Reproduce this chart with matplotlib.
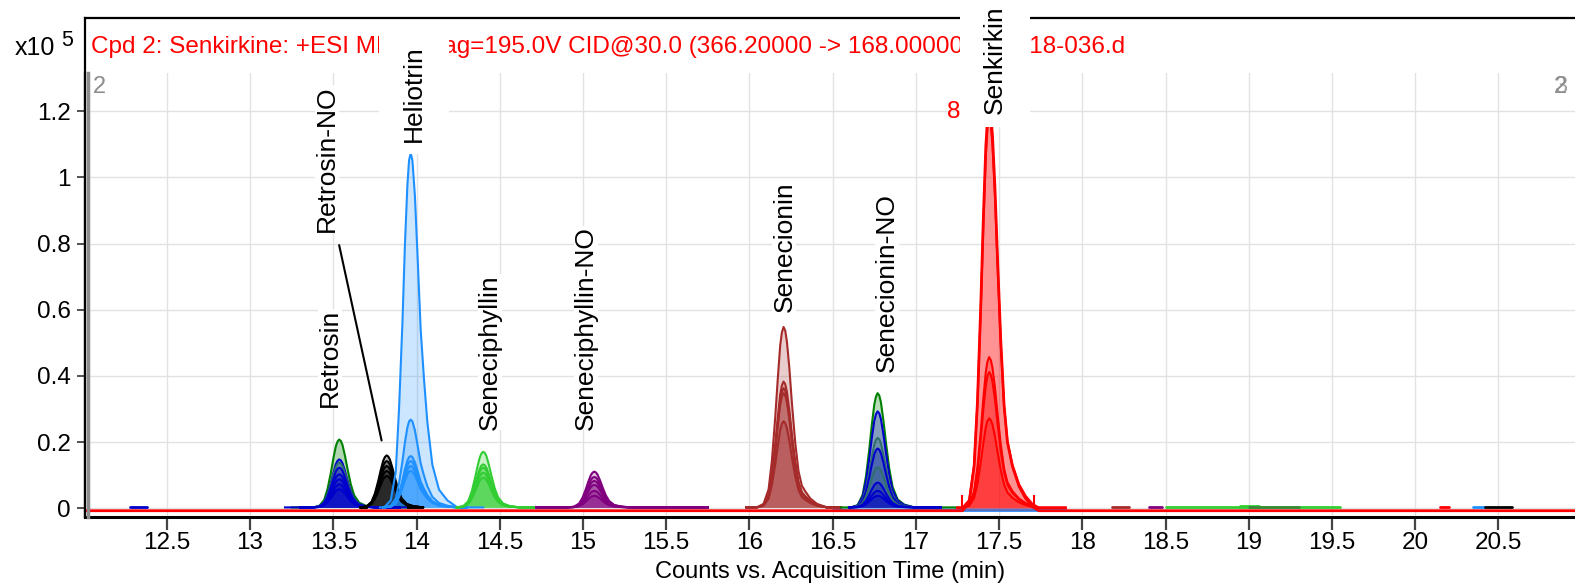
import matplotlib
matplotlib.use("Agg")
import matplotlib.pyplot as plt

plt.rcParams['font.family'] = ['Liberation Sans', 'DejaVu Sans']

# ---------------- axis / text data ----------------
x_limits = [12.008, 20.96]
y_limits = [-0.026, 1.315]
x_ticks = [12.5, 13.0, 13.5, 14.0, 14.5, 15.0, 15.5, 16.0, 16.5, 17.0,
           17.5, 18.0, 18.5, 19.0, 19.5, 20.0, 20.5]
x_tick_labels = ['12.5', '13', '13.5', '14', '14.5', '15', '15.5', '16', '16.5',
                 '17', '17.5', '18', '18.5', '19', '19.5', '20', '20.5']
y_ticks = [0, 0.2, 0.4, 0.6, 0.8, 1.0, 1.2]
y_tick_labels = ['0', '0.2', '0.4', '0.6', '0.8', '1', '1.2']
x_label = 'Counts vs. Acquisition Time (min)'
y_scale_label = 'x10'
y_scale_exp = '5'
title = 'Cpd 2: Senkirkine: +ESI MRM Frag=195.0V CID@30.0 (366.20000 -> 168.00000) P-2018-036.d'

# ---------------- compounds ----------------
compounds = ['Retrosin', 'Retrosin-NO', 'Heliotrin', 'Seneciphyllin',
             'Seneciphyllin-NO', 'Senecionin', 'Senecionin-NO', 'Senkirkin']
apex_times = [13.535, 13.82, 13.965, 14.40, 15.067, 16.205, 16.77, 17.44]
compound_profile = ['narrow', 'narrow', 'helio', 'narrow', 'narrow',
                    'senecionin', 'narrow', 'senk']
label_x = [13.48, 13.46, 13.985, 14.44, 15.02, 16.21, 16.825, 17.475]
label_y = [0.305, 0.835, 1.107, 0.237, 0.237, 0.593, 0.412, 1.19]
label_wide_box = [False, False, True, False, False, False, False, True]

# leader line from Retrosin-NO label to its peak
leader_from = (13.535, 0.795)
leader_to = (13.79, 0.205)

# ---------------- peak profiles (offset from apex in min, relative intensity) ----------------
narrow_dt = [-0.16, -0.12, -0.09, -0.07, -0.05, -0.035, -0.02, -0.01, 0.0, 0.01,
             0.02, 0.035, 0.05, 0.07, 0.09, 0.12, 0.16, 0.22]
narrow_i = [0.0, 0.02, 0.11, 0.27, 0.51, 0.72, 0.90, 0.97, 1.0, 0.98,
            0.92, 0.76, 0.57, 0.34, 0.18, 0.07, 0.025, 0.0]
helio_dt = [-0.16, -0.12, -0.09, -0.07, -0.05, -0.035, -0.02, -0.01, 0.0, 0.01,
            0.025, 0.04, 0.06, 0.08, 0.10, 0.13, 0.17, 0.22, 0.28]
helio_i = [0.0, 0.02, 0.10, 0.28, 0.52, 0.74, 0.91, 0.98, 1.0, 0.98,
           0.88, 0.72, 0.50, 0.36, 0.24, 0.12, 0.05, 0.02, 0.0]
senecionin_dt = [-0.16, -0.12, -0.09, -0.07, -0.05, -0.035, -0.02, -0.01, 0.0, 0.01,
                 0.02, 0.035, 0.05, 0.07, 0.09, 0.11, 0.13, 0.16, 0.20, 0.26]
senecionin_i = [0.0, 0.02, 0.10, 0.26, 0.50, 0.71, 0.90, 0.97, 1.0, 0.98,
                0.92, 0.77, 0.58, 0.36, 0.20, 0.12, 0.09, 0.05, 0.02, 0.0]
senk_dt = [-0.16, -0.12, -0.09, -0.07, -0.05, -0.035, -0.02, -0.01, 0.0, 0.01,
           0.02, 0.035, 0.05, 0.07, 0.09, 0.11, 0.14, 0.18, 0.22, 0.26, 0.30]
senk_i = [0.0, 0.02, 0.11, 0.27, 0.51, 0.72, 0.90, 0.97, 1.0, 0.98,
          0.93, 0.80, 0.63, 0.42, 0.26, 0.17, 0.11, 0.06, 0.03, 0.01, 0.0]
profiles = {'narrow': (narrow_dt, narrow_i), 'helio': (helio_dt, helio_i),
            'senecionin': (senecionin_dt, senecionin_i), 'senk': (senk_dt, senk_i)}

GREEN, BLUE, TEAL, BLACK = '#008000', '#0000CD', '#2F6F6F', '#000000'
DODGER, LIME, PURPLE, BROWN, RED = '#1E90FF', '#32CD32', '#800080', '#A52A2A', '#FF0000'

# ---------------- traces (one per sample) ----------------
trace_compound = [0, 0, 0, 0, 0, 0, 0, 0,
                  1, 1, 1, 1, 1,
                  2, 2, 2, 2, 2, 2,
                  3, 3, 3, 3, 3,
                  4, 4, 4, 4, 4, 4,
                  5, 5, 5, 5, 5,
                  6, 6, 6, 6, 6, 6, 6, 6,
                  7, 7, 7, 7, 7]
trace_color = [GREEN, BLUE, TEAL, BLUE, BLUE, BLUE, BLUE, BLUE,
               BLACK, BLACK, BLACK, BLACK, BLACK,
               DODGER, DODGER, DODGER, DODGER, DODGER, DODGER,
               LIME, LIME, LIME, LIME, LIME,
               PURPLE, PURPLE, PURPLE, PURPLE, PURPLE, PURPLE,
               BROWN, BROWN, BROWN, BROWN, BROWN,
               GREEN, BLUE, TEAL, BLUE, TEAL, BLUE, BLUE, BLUE,
               RED, RED, RED, RED, RED]
trace_height = [0.205, 0.145, 0.135, 0.12, 0.10, 0.085, 0.07, 0.055,
                0.157, 0.14, 0.125, 0.11, 0.095,
                1.07, 0.265, 0.155, 0.14, 0.125, 0.11,
                0.168, 0.13, 0.12, 0.105, 0.09,
                0.108, 0.092, 0.08, 0.068, 0.05, 0.035,
                0.545, 0.38, 0.36, 0.345, 0.26,
                0.345, 0.29, 0.21, 0.178, 0.121, 0.075, 0.05, 0.035,
                1.22, 1.18, 0.455, 0.41, 0.27]
trace_start = [13.25, 13.21, 13.30, 13.30, 13.30, 13.30, 13.30, 13.30,
               13.70, 13.70, 13.70, 13.70, 13.70,
               13.78, 13.80, 13.80, 13.80, 13.80, 13.80,
               14.25, 14.25, 14.25, 14.25, 14.25,
               14.72, 14.72, 14.72, 14.72, 14.72, 14.72,
               15.98, 15.98, 15.98, 15.98, 15.98,
               16.55, 16.60, 16.60, 16.60, 16.60, 16.60, 16.60, 16.60,
               12.008, 17.25, 17.25, 17.25, 17.25]
trace_end = [13.95, 14.00, 13.90, 13.90, 13.90, 13.90, 13.90, 13.90,
             13.95, 13.95, 13.95, 13.95, 13.95,
             14.40, 14.30, 14.30, 14.30, 14.30, 14.30,
             14.75, 14.75, 14.75, 14.75, 14.75,
             15.75, 15.75, 15.75, 15.75, 15.75, 15.75,
             16.55, 16.55, 16.55, 16.55, 16.55,
             17.25, 17.15, 17.15, 17.15, 17.15, 17.15, 17.15, 17.15,
             20.96, 17.90, 17.90, 17.90, 17.90]
trace_base = [0.003] * 43 + [-0.007, 0.002, 0.002, 0.002, 0.002]
# fill opacity per compound
compound_alpha = [0.3, 0.3, 0.22, 0.26, 0.24, 0.24, 0.28, 0.24]

# small baseline blips (colour, start, end, level)
blip_color = [BLUE, DODGER, BROWN, PURPLE, LIME, LIME, '#3a8a3a', RED, DODGER, BLACK]
blip_start = [12.28, 16.50, 18.18, 18.40, 18.50, 18.95, 19.00, 20.15, 20.35, 20.42]
blip_end = [12.38, 17.90, 18.28, 18.48, 19.55, 19.06, 19.30, 20.20, 20.42, 20.58]
blip_level = [0.003, -0.004, 0.003, 0.003, 0.004, 0.008, 0.005, 0.003, 0.003, 0.003]

# integration markers of Senkirkine
marker_times = [17.28, 17.71]
marker_top = 0.04

# ---------------- figure ----------------
W, H = 1575, 587
fig = plt.figure(figsize=(W / 100, H / 100), dpi=100)
left_px, right_px = 85, 1575
bottom_px, data_top_px, frame_top_px = 517, 73, 18

hdr = fig.add_axes([left_px / W, (H - bottom_px) / H, (right_px - left_px) / W,
                    (bottom_px - frame_top_px) / H], zorder=0)
hdr.set_xticks([])
hdr.set_yticks([])
for s in ['bottom', 'right']:
    hdr.spines[s].set_visible(False)
for s in ['left', 'top']:
    hdr.spines[s].set_linewidth(1.6)
hdr.text(91 / W, 1 - 47 / H, title, transform=fig.transFigure, color='#FF0000',
         fontsize=17.5, ha='left', va='center')

ax = fig.add_axes([left_px / W, (H - bottom_px) / H, (right_px - left_px) / W,
                   (bottom_px - data_top_px) / H], zorder=1)
ax.patch.set_visible(False)
ax.set_xlim(x_limits)
ax.set_ylim(y_limits)
ax.set_xticks(x_ticks)
ax.set_xticklabels(x_tick_labels)
ax.set_yticks(y_ticks)
ax.set_yticklabels(y_tick_labels)
ax.grid(True, color='#e2e2e2', lw=1.0)
ax.set_axisbelow(True)
for s in ['top', 'right']:
    ax.spines[s].set_visible(False)
ax.spines['left'].set_linewidth(1.6)
ax.spines['bottom'].set_linewidth(2.2)
ax.tick_params(axis='y', length=6, width=1.2, pad=4, labelsize=17.5, color='#333333')
ax.tick_params(axis='x', length=9, width=1.6, pad=2, labelsize=17.5, color='#444444')
ax.set_xlabel(x_label, fontsize=17, labelpad=5)

# left gray bar and gray markers
ax.plot([0.0022, 0.0022], [0, 1], transform=ax.transAxes, color='#8c8c8c', lw=2.5,
        clip_on=False, zorder=3)
ax.text(0.005, 0.993, '2', transform=ax.transAxes, color='#8c8c8c', fontsize=17,
        ha='left', va='top')
ax.text(0.9945, 0.993, '2', transform=ax.transAxes, color='#8c8c8c', fontsize=17,
        ha='right', va='top')
ax.text(0.9945, 0.993, '3', transform=ax.transAxes, color='#8c8c8c', fontsize=17,
        ha='right', va='top', alpha=0.8)

# blips
for c, s, e, lv in zip(blip_color, blip_start, blip_end, blip_level):
    ax.fill_between([s, e], 0, [lv, lv], color=c, alpha=0.5, lw=0, zorder=2)
    ax.plot([s, e], [lv, lv], color=c, lw=2.0, zorder=2, solid_capstyle='round')

# traces
for k in range(len(trace_height)):
    ci = trace_compound[k]
    dts, rel = profiles[compound_profile[ci]]
    apex = apex_times[ci]
    base = trace_base[k]
    xs = [trace_start[k]] + [apex + d for d in dts] + [trace_end[k]]
    ys = [base] + [base + trace_height[k] * r for r in rel] + [base]
    ax.fill_between(xs, base, ys, color=trace_color[k], alpha=compound_alpha[ci],
                    lw=0, zorder=2)
    lw = 2.0 if (trace_start[k] == x_limits[0]) else 1.5
    ax.plot(xs, ys, color=trace_color[k], lw=lw, zorder=2.5)

# integration markers
ax.vlines(marker_times, 0, marker_top, color=RED, lw=1.5, zorder=3)

# labels
for name, lx, ly, wide in zip(compounds, label_x, label_y, label_wide_box):
    if wide:
        bb = dict(boxstyle='square,pad=0.47', fc='white', ec='none', mutation_aspect=1.85)
    else:
        bb = dict(boxstyle='square,pad=0.0', fc='white', ec='none')
    ax.text(lx, ly, name, rotation=90, ha='center', va='bottom', fontsize=19,
            color='black', bbox=bb, zorder=5, clip_on=False)

ax.annotate('', xy=leader_to, xytext=leader_from,
            arrowprops=dict(arrowstyle='-', color='black', lw=1.5,
                            shrinkA=0, shrinkB=0), zorder=5)

# red peak number
ax.text(17.225, 1.197, '8', color=RED, fontsize=17.5, ha='center', va='center', zorder=5)

# scale factor label
fig.text(15 / W, 1 - 48 / H, y_scale_label, fontsize=18, ha='left', va='center')
fig.text(61 / W, 1 - 41 / H, y_scale_exp, fontsize=15.5, ha='left', va='center')

fig.savefig('out.png', dpi=100)
